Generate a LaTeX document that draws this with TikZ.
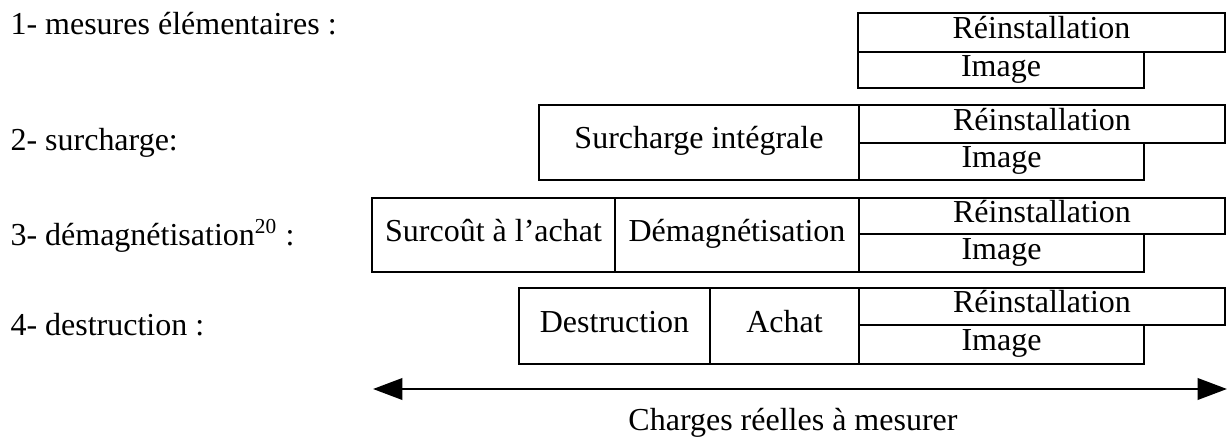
\documentclass[tikz,border=0pt]{standalone}
\usepackage{fontspec}
\setmainfont{Liberation Serif}
\usetikzlibrary{arrows.meta}
\tikzset{
  cellbox/.style={draw, line width=1.1pt, inner sep=0pt, font=\fontsize{12}{14}\selectfont, text height=0.68em, text depth=0.22em},
  lbl/.style={inner sep=0pt, anchor=base west, font=\fontsize{12}{14}\selectfont},
  axis/.style={line width=1pt, {Triangle[length=11pt,width=8pt]}-{Triangle[length=11pt,width=8pt]}}
}
\newcommand\cell[6]{\node[cellbox, minimum width={(#4-#2)*0.375pt}, minimum height={(#5-#3)*0.375pt}] (#1) at ({(#2+#4)/2},{(#3+#5)/2}) {#6};}
\begin{document}
\begin{tikzpicture}[x=0.375pt,y=-0.375pt]
\useasboundingbox (0,0) rectangle (1227,439);
% row 1
\node[lbl] (l1) at (10,35) {1- mesures élémentaires :};
\cell{r1}{858}{13}{1225}{52}{Réinstallation}
\cell{i1}{858}{52}{1144}{88}{Image}
% row 2
\node[lbl] (l2) at (10,150) {2- surcharge:};
\cell{s2}{539}{105}{859}{180}{Surcharge intégrale}
\cell{r2}{859}{105}{1225}{143}{Réinstallation}
\cell{i2}{859}{143}{1144}{180}{Image}
% row 3
\node[lbl] (l3) at (10,245) {3- démagnétisation\textsuperscript{20} :};
\cell{a3}{372}{198}{615}{272}{Surcoût à l’achat}
\cell{d3}{615}{198}{859}{272}{Démagnétisation}
\cell{r3}{859}{198}{1225}{234}{Réinstallation}
\cell{i3}{859}{234}{1144}{272}{Image}
% row 4
\node[lbl] (l4) at (10,335) {4- destruction :};
\cell{d4}{519}{288}{710}{364}{Destruction}
\cell{a4}{710}{288}{859}{364}{Achat}
\cell{r4}{859}{288}{1225}{325}{Réinstallation}
\cell{i4}{859}{325}{1144}{364}{Image}
% axis
\coordinate (aL) at (373,389);
\coordinate (aR) at (1227,389);
\draw[axis] (aL) -- (aR);
\node[lbl, anchor=base] (cap) at (793,430) {Charges réelles à mesurer};
\end{tikzpicture}
\end{document}
